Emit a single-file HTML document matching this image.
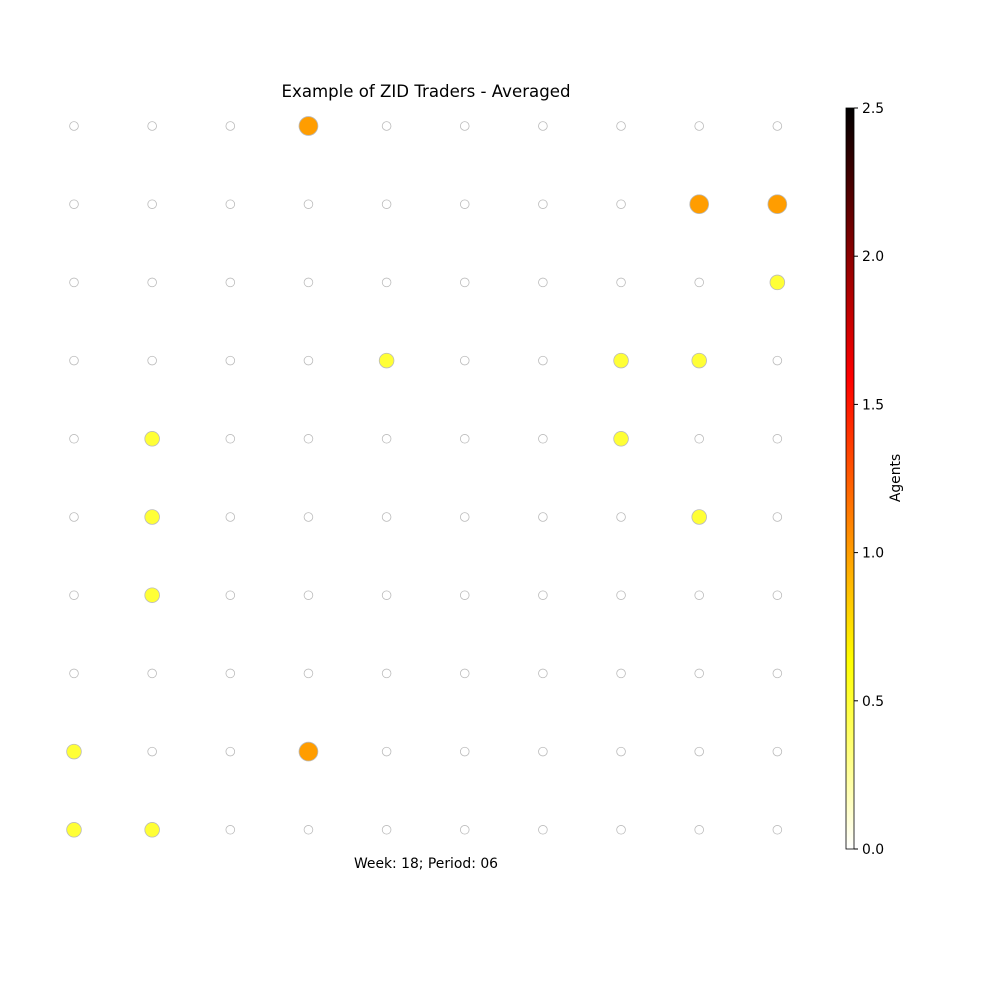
<!DOCTYPE html>
<html><head><meta charset="utf-8"><style>body{margin:0;background:#fff}svg{display:block;font-family:"DejaVu Sans","Liberation Sans",sans-serif}</style></head>
<body>
<svg id="chart" width="1000" height="1000">
<defs><linearGradient id="hotr" x1="0" y1="1" x2="0" y2="0">
<stop offset="0" stop-color="#ffffff"/><stop offset="0.254" stop-color="#ffff00"/><stop offset="0.635" stop-color="#ff0000"/><stop offset="1" stop-color="#000000"/></linearGradient></defs>
<text x="426" y="97" font-size="16.6" text-anchor="middle">Example of ZID Traders - Averaged</text>
<text x="426" y="868" font-size="13.9" text-anchor="middle">Week: 18; Period: 06</text>
<g id="dots"></g>
<rect x="846" y="108" width="8" height="741" fill="url(#hotr)" stroke="#000" stroke-width="0.8"/>
<g id="cbticks"></g>
<text transform="translate(900,478) rotate(-90)" font-size="13.9" text-anchor="middle">Agents</text>
</svg>
<script>
const cols = [0,1,2,3,4,5,6,7,8,9];
const rows = [0,1,2,3,4,5,6,7,8,9];
// values[row][col], row 0 = top
const values = [
[0,0,0,1,0,0,0,0,0,0],
[0,0,0,0,0,0,0,0,1,1],
[0,0,0,0,0,0,0,0,0,0.5],
[0,0,0,0,0.5,0,0,0.5,0.5,0],
[0,0.5,0,0,0,0,0,0.5,0,0],
[0,0.5,0,0,0,0,0,0,0.5,0],
[0,0.5,0,0,0,0,0,0,0,0],
[0,0,0,0,0,0,0,0,0,0],
[0.5,0,0,1,0,0,0,0,0,0],
[0.5,0.5,0,0,0,0,0,0,0,0]
];
const cbTicks = [0,0.5,1,1.5,2,2.5];
const cbLabels = ["0.0","0.5","1.0","1.5","2.0","2.5"];
const NS="http://www.w3.org/2000/svg";
const xs = c => 74 + c*78.15;
const ys = r => 126 + r*78.2;
const cy = v => 849 - v/2.5*741;
function hot(v){const t=1-v/2.5;const r=Math.min(1,t/0.365),g=Math.max(0,Math.min(1,(t-0.365)/0.381)),b=Math.max(0,Math.min(1,(t-0.746)/0.254));return `rgb(${Math.round(r*255)},${Math.round(g*255)},${Math.round(b*255)})`;}
const dg=document.getElementById('dots');
rows.forEach(r=>cols.forEach(c=>{const v=values[r][c];const e=document.createElementNS(NS,'circle');
e.setAttribute('cx',xs(c));e.setAttribute('cy',ys(r));e.setAttribute('r',Math.sqrt(19+70*v));
e.setAttribute('fill',v>0?hot(v):'#fff');e.setAttribute('stroke','#bbb');e.setAttribute('stroke-width','0.8');


dg.appendChild(e);}));
const tg=document.getElementById('cbticks');
cbTicks.forEach((t,i)=>{const l=document.createElementNS(NS,'line');l.setAttribute('x1',854);l.setAttribute('x2',858);l.setAttribute('y1',cy(t));l.setAttribute('y2',cy(t));l.setAttribute('stroke','#000');


tg.appendChild(l);
const tx=document.createElementNS(NS,'text');tx.setAttribute('x',862);tx.setAttribute('y',cy(t)+5);tx.setAttribute('font-size','13.9');tx.textContent=cbLabels[i];


tg.appendChild(tx);});
</script>
</body></html>
